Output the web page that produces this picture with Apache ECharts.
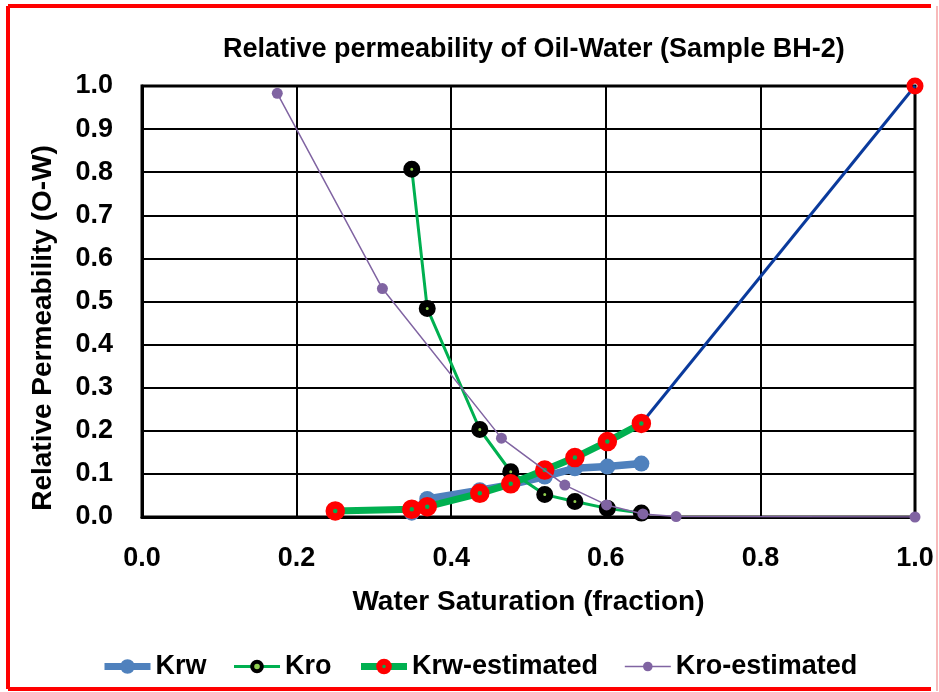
<!DOCTYPE html>
<html>
<head>
<meta charset="utf-8">
<script src="https://cdn.jsdelivr.net/npm/echarts@6/dist/echarts.min.js"></script>
<style>
  html, body { margin: 0; padding: 0; background: #fff; }
  #chart { width: 939px; height: 692px; }
</style>
</head>
<body>
<div id="chart"></div>
<script>
// Laboratory points (water saturation, fraction)
const swLab = [0.349, 0.369, 0.437, 0.477, 0.521, 0.560, 0.602, 0.646];
const krw   = [0.010, 0.042, 0.062, 0.075, 0.094, 0.113, 0.117, 0.124];
const kro   = [0.807, 0.484, 0.203, 0.105, 0.052, 0.036, 0.020, 0.009];

// Estimated water relative permeability
const swKrwEst = [0.250, 0.349, 0.369, 0.437, 0.477, 0.521, 0.560, 0.602, 0.646];
const krwEst   = [0.014, 0.018, 0.024, 0.055, 0.077, 0.109, 0.138, 0.175, 0.217];
// Extension of the estimate to the end point
const swKrwEnd = [0.646, 1.0];
const krwEnd   = [0.217, 1.0];

// Estimated oil relative permeability
const swKroEst = [0.175, 0.311, 0.465, 0.547, 0.601, 0.648, 0.691, 1.0];
const kroEst   = [0.983, 0.530, 0.183, 0.074, 0.028, 0.007, 0.001, 0.000];

const xTicks = { min: 0, max: 1, interval: 0.2 };
const yTicks = { min: 0, max: 1, interval: 0.1 };

const seriesNames = ['Krw', 'Kro', 'Krw-estimated', 'Kro-estimated'];

const pairs = (xs, ys) => xs.map((x, i) => [x, ys[i]]);
const FONT = 'Liberation Sans';

const chart = echarts.init(document.getElementById('chart'), null, { renderer: 'canvas' });

chart.setOption({
  animation: false,
  backgroundColor: '#fff',
  textStyle: { fontFamily: FONT },
  title: {
    text: 'Relative permeability of Oil-Water (Sample BH-2)',
    left: 218,
    top: 31,
    textStyle: { fontFamily: FONT, fontWeight: 'bold', fontSize: 27, color: '#000' }
  },
  grid: {
    left: 142, right: 24, top: 86, bottom: 175,
    show: true, borderColor: '#000', borderWidth: 3
  },
  legend: {
    left: 96,
    top: 648,
    itemWidth: 46,
    itemHeight: 12,
    itemGap: 26,
    textStyle: { fontFamily: FONT, fontWeight: 'bold', fontSize: 27, color: '#000' },
    data: [
      { name: seriesNames[0], lineStyle: { width: 7 }, itemStyle: { borderColor: '#4F81BD', borderWidth: 5 } },
      { name: seriesNames[1], lineStyle: { width: 3 }, itemStyle: { borderColor: '#000', borderWidth: 4 } },
      { name: seriesNames[2], lineStyle: { width: 7 }, itemStyle: { borderColor: '#ff0000', borderWidth: 6 } },
      { name: seriesNames[3], lineStyle: { width: 1.5 } }
    ]
  },
  xAxis: {
    type: 'value',
    min: xTicks.min, max: xTicks.max, interval: xTicks.interval,
    name: 'Water Saturation (fraction)',
    nameLocation: 'middle',
    nameGap: 71,
    nameTextStyle: { fontFamily: FONT, fontWeight: 'bold', fontSize: 28, color: '#000' },
    axisLine: { show: true, lineStyle: { color: '#000', width: 3 } },
    axisTick: { show: false },
    axisLabel: {
      margin: 28,
      fontFamily: FONT, fontWeight: 'bold', fontSize: 27, color: '#000',
      formatter: v => v.toFixed(1)
    },
    splitLine: { show: true, lineStyle: { color: '#000', width: 2 } }
  },
  yAxis: {
    type: 'value',
    min: yTicks.min, max: yTicks.max, interval: yTicks.interval,
    axisLine: { show: true, lineStyle: { color: '#000', width: 3 } },
    axisTick: { show: false },
    axisLabel: {
      margin: 29,
      fontFamily: FONT, fontWeight: 'bold', fontSize: 27, color: '#000',
      formatter: v => v.toFixed(1)
    },
    splitLine: { show: true, lineStyle: { color: '#000', width: 2 } }
  },
  graphic: [
    {
      type: 'text',
      x: 43, y: 328,
      rotation: Math.PI / 2,
      style: {
        text: 'Relative Permeability (O-W)',
        fontFamily: FONT, fontWeight: 'bold', fontSize: 28, fill: '#000',
        align: 'center', verticalAlign: 'middle'
      }
    },
    // outer frame
    { type: 'line', shape: { x1: 8, y1: 6, x2: 931, y2: 6 }, style: { stroke: '#ff0000', lineWidth: 4 } },
    { type: 'line', shape: { x1: 8, y1: 6, x2: 8, y2: 689 }, style: { stroke: '#ff0000', lineWidth: 4 } },
    { type: 'line', shape: { x1: 8, y1: 689, x2: 931, y2: 689 }, style: { stroke: '#ff0000', lineWidth: 4 } },
    { type: 'line', shape: { x1: 937, y1: 6, x2: 937, y2: 691 }, style: { stroke: '#f6a3a3', lineWidth: 1.5 } }
  ],
  series: [
    {
      name: 'Krw',
      type: 'line',
      data: pairs(swLab, krw),
      symbol: 'circle',
      symbolSize: 16,
      lineStyle: { color: '#4F81BD', width: 7.5 },
      itemStyle: { color: '#4F81BD' },
      z: 2
    },
    {
      name: 'Kro',
      type: 'line',
      data: pairs(swLab, kro),
      symbol: 'circle',
      symbolSize: 10,
      lineStyle: { color: '#00B050', width: 3 },
      itemStyle: { color: '#92D050', borderColor: '#000', borderWidth: 7 },
      z: 3
    },
    {
      name: 'Krw-estimated',
      type: 'line',
      data: pairs(swKrwEst, krwEst),
      symbol: 'circle',
      symbolSize: 12,
      lineStyle: { color: '#00B050', width: 7 },
      itemStyle: { color: '#00B050', borderColor: '#ff0000', borderWidth: 7.5 },
      z: 4
    },
    {
      name: 'Krw-end',
      type: 'line',
      // only the far end point carries a marker
      data: pairs(swKrwEnd, krwEnd).map((p, i) => (i === 0 ? { value: p, symbol: 'none' } : { value: p })),
      symbol: 'circle',
      symbolSize: 11,
      lineStyle: { color: '#0A3A9C', width: 3 },
      itemStyle: { color: 'rgba(255,255,255,0)', borderColor: '#ff0000', borderWidth: 6 },
      z: 3
    },
    {
      name: 'Kro-estimated',
      type: 'line',
      data: pairs(swKroEst, kroEst),
      symbol: 'circle',
      symbolSize: 11,
      lineStyle: { color: '#8064A2', width: 1.5 },
      itemStyle: { color: '#8064A2' },
      z: 5
    }
  ]
});
</script>
</body>
</html>
